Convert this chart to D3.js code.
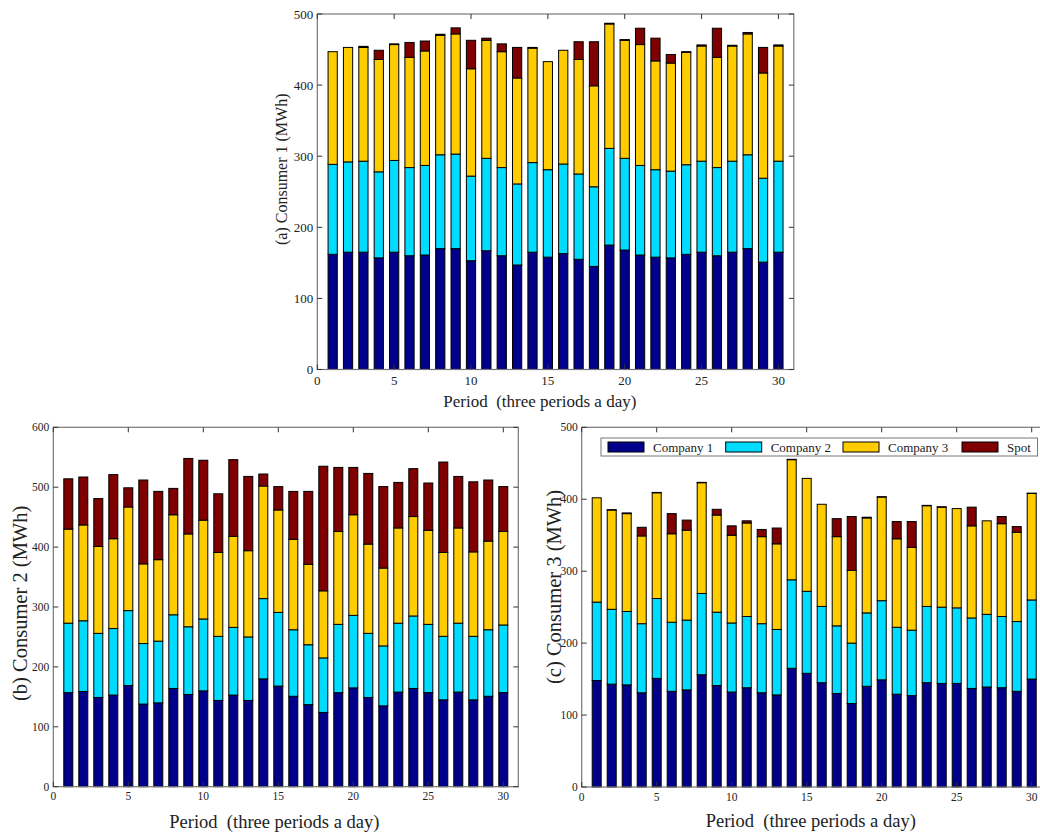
<!DOCTYPE html>
<html>
<head>
<meta charset="utf-8">
<script src="https://cdn.jsdelivr.net/npm/d3@7"></script>
<style>
  body { margin: 0; background: #fff; }
  svg text { font-family: "Liberation Serif", "Times New Roman", serif; fill: #222; }
</style>
</head>
<body>
<svg id="chart" width="1040" height="834"></svg>
<script>
// --- data (MWh per period) ---
const periods = d3.range(1, 31);
const companies = ["Company 1", "Company 2", "Company 3", "Spot"];
const colors = ["#00008b", "#00dcff", "#ffcc00", "#7f0000"];

// Consumer 1
const c1Company1 = [162,165,165,157,165,160,161,170,170,153,167,160,147,165,158,163,155,145,175,168,161,158,157,162,165,160,165,170,151,165];
const c1Company2 = [126.5,127,128,121,129,124,126,132,133,119,130,124,114,126,123,126,120,112,136,129,126,123,122,126,128,124,128,132,118,128];
const c1Company3 = [158.5,161,160,158,163,155,161,168,169,151,166,163,149,161,152,160,161,142,175,166,170,153,152,158,162,155,162,170,148,162];
const c1Spot     = [0,0,1.5,13,1,21,14,1.5,8.5,40,3,11,43,1,0,0,25,62,1,1,23,32,12,1,1.5,41,1,2,36,1.5];

// Consumer 2
const c2Company1 = [157,159,149,153,169,138,140,164,154,160,144,153,144,180,168,151,137,124,157,165,149,135,158,164,157,145,158,145,151,157];
const c2Company2 = [116,118,107,111,125,101,103,123,113,120,107,113,106,134,123,111,100,91,114,121,107,100,115,121,114,106,115,106,111,113];
const c2Company3 = [157,160,145,150,173,133,136,167,155,165,140,152,144,188,171,151,134,112,155,168,149,130,159,166,157,140,159,141,148,156];
const c2Spot     = [84,80,80,107,32,140,114,44,126,100,98,128,124,20,39,80,122,208,107,79,118,136,76,80,79,151,86,117,102,75];

// Consumer 3
const c3Company1 = [148,143,142,131,151,133,135,156,141,132,138,131,128,165,158,145,130,116,140,149,129,127,145,144,144,137,139,138,133,150];
const c3Company2 = [109,104,102,96,111,96,97,113,102,96,99,96,91,123,114,106,94,84,102,110,93,91,106,106,105,98,101,99,97,110];
const c3Company3 = [145,138,136,122,147,123,125,154,135,122,130,121,119,167,157,142,124,101,132,144,123,115,140,139,138,128,130,129,124,148];
const c3Spot     = [0,0.5,1,12,0.5,28,14,0.5,8,13,3,10,22,0.5,0,0,25,75,1,0.5,24,36,0.5,0.5,0,26,0,10,8,0.5];

const yTicks1 = [0, 100, 200, 300, 400, 500];
const yTicks2 = [0, 100, 200, 300, 400, 500, 600];
const xTicks = [0, 5, 10, 15, 20, 25, 30];

const svg = d3.select("#chart");

function drawPanel(p) {
    const g = svg.append("g");
    const x = d3.scaleLinear().domain([0, 31]).range([p.left, p.right]);
    const y = d3.scaleLinear().domain([0, p.yMax]).range([p.bottom, p.top]);

    const rows = periods.map((d, i) => ({
        period: d,
        "Company 1": p.series[0][i], "Company 2": p.series[1][i],
        "Company 3": p.series[2][i], "Spot": p.series[3][i]
    }));
    const stacked = d3.stack().keys(companies)(rows);

    // bars
    const bw = x(p.barWidth) - x(0);
    g.selectAll("g.layer").data(stacked).enter().append("g")
        .attr("class", "layer")
        .attr("fill", (d, i) => colors[i])
        .selectAll("rect").data(d => d).enter().append("rect")
        .attr("x", d => x(d.data.period) - bw / 2)
        .attr("width", bw)
        .attr("y", d => y(d[1]))
        .attr("height", d => y(d[0]) - y(d[1]))
        .attr("stroke", "#000")
        .attr("stroke-width", 1);

    // frame
    g.append("rect")
        .attr("x", p.left).attr("y", p.top)
        .attr("width", p.right - p.left).attr("height", p.bottom - p.top)
        .attr("fill", "none").attr("stroke", "#777").attr("stroke-width", 1.2);

    // ticks pointing inward (bottom/top/left/right)
    xTicks.forEach(t => {
        g.append("line").attr("x1", x(t)).attr("x2", x(t)).attr("y1", p.bottom).attr("y2", p.bottom - 5).attr("stroke", "#333");
        g.append("line").attr("x1", x(t)).attr("x2", x(t)).attr("y1", p.top).attr("y2", p.top + 5).attr("stroke", "#333");
        g.append("text").attr("x", x(t)).attr("y", p.bottom + p.tickFont + 2)
            .attr("text-anchor", "middle").style("font-size", p.tickFont + "px").text(t);
    });
    p.yTicks.forEach(t => {
        g.append("line").attr("x1", p.left).attr("x2", p.left + 5).attr("y1", y(t)).attr("y2", y(t)).attr("stroke", "#333");
        g.append("line").attr("x1", p.right).attr("x2", p.right - 5).attr("y1", y(t)).attr("y2", y(t)).attr("stroke", "#333");
        g.append("text").attr("x", p.left - 4).attr("y", y(t) + p.tickFont * 0.35)
            .attr("text-anchor", "end").style("font-size", p.tickFont + "px").text(t);
    });

    // axis labels
    g.append("text").attr("x", p.xLabelX).attr("y", p.xLabelY)
        .style("font-size", p.labelFont + "px")
        .attr("xml:space", "preserve")
        .text("Period  (three periods a day)");
    g.append("text")
        .attr("transform", `translate(${p.yLabelX},${p.yLabelY}) rotate(-90)`)
        .style("font-size", p.yLabelFont + "px")
        .text(p.yLabel);

    return { g, x, y };
}

drawPanel({
    left: 317.3, right: 793.8, top: 14, bottom: 369.5, yMax: 500,
    yTicks: yTicks1, barWidth: 0.6, tickFont: 13, labelFont: 17, yLabelFont: 16,
    series: [c1Company1, c1Company2, c1Company3, c1Spot],
    xLabelX: 443.3, xLabelY: 406.7,
    yLabelX: 287, yLabelY: 245, yLabel: "(a) Consumer 1 (MWh)"
});

drawPanel({
    left: 53.3, right: 518.3, top: 427.3, bottom: 786.7, yMax: 600,
    yTicks: yTicks2, barWidth: 0.6, tickFont: 11.5, labelFont: 18.5, yLabelFont: 20.5,
    series: [c2Company1, c2Company2, c2Company3, c2Spot],
    xLabelX: 169.3, xLabelY: 828.3,
    yLabelX: 26.5, yLabelY: 701, yLabel: "(b) Consumer 2 (MWh)"
});

const pc = drawPanel({
    left: 581.7, right: 1046.7, top: 427.3, bottom: 787, yMax: 500,
    yTicks: yTicks1, barWidth: 0.6, tickFont: 11.5, labelFont: 18.5, yLabelFont: 20.5,
    series: [c3Company1, c3Company2, c3Company3, c3Spot],
    xLabelX: 705.7, xLabelY: 827.3,
    yLabelX: 560.5, yLabelY: 684, yLabel: "(c) Consumer 3 (MWh)"
});

// legend inside panel (c)
const legend = pc.g.append("g");
legend.append("rect").attr("x", 601).attr("y", 438).attr("width", 436.5).attr("height", 18)
    .attr("fill", "#fff").attr("stroke", "#777").attr("stroke-width", 1);
const legendX = [608, 725.7, 843, 962];
companies.forEach((c, i) => {
    legend.append("rect").attr("x", legendX[i]).attr("y", 442).attr("width", 36).attr("height", 10)
        .attr("fill", colors[i]).attr("stroke", "#000").attr("stroke-width", 1);
    legend.append("text").attr("x", legendX[i] + 45).attr("y", 451.5)
        .style("font-size", "13px").text(c);
});
</script>
</body>
</html>
